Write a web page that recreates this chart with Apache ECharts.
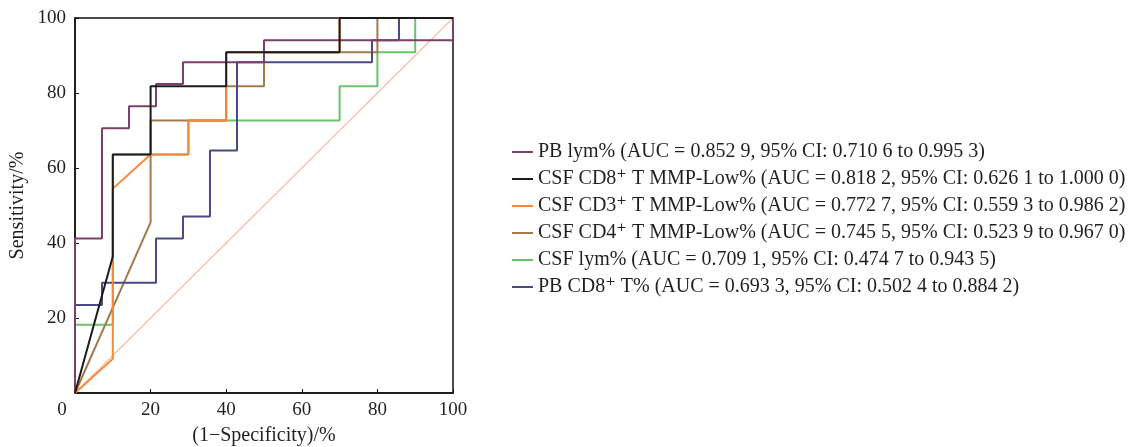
<!DOCTYPE html>
<html>
<head>
<meta charset="utf-8">
<script src="https://cdn.jsdelivr.net/npm/echarts@6/dist/echarts.min.js"></script>
<style>
html,body{margin:0;padding:0;background:#fff;}
#chart{width:1137px;height:447px;}
</style>
</head>
<body>
<div id="chart"></div>
<script>
// Series names (legend order)
const seriesNames = [
  'PB lym% (AUC = 0.852 9, 95% CI: 0.710 6 to 0.995 3)',
  'CSF CD8\u207A T MMP-Low% (AUC = 0.818 2, 95% CI: 0.626 1 to 1.000 0)',
  'CSF CD3\u207A T MMP-Low% (AUC = 0.772 7, 95% CI: 0.559 3 to 0.986 2)',
  'CSF CD4\u207A T MMP-Low% (AUC = 0.745 5, 95% CI: 0.523 9 to 0.967 0)',
  'CSF lym% (AUC = 0.709 1, 95% CI: 0.474 7 to 0.943 5)',
  'PB CD8\u207A T% (AUC = 0.693 3, 95% CI: 0.502 4 to 0.884 2)'
];
const seriesColors = ['#7d3f6c', '#1c1a1a', '#f5893a', '#a47a4c', '#6cc46a', '#4b4a85'];

// ROC points [1-specificity %, sensitivity %]
const pbLym = [[0,0],[0,41.2],[7.14,41.2],[7.14,70.6],[14.29,70.6],[14.29,76.5],[21.43,76.5],[21.43,82.4],[28.57,82.4],[28.57,88.2],[50,88.2],[50,94.1],[100,94.1],[100,100]];
const csfCD8 = [[0,0],[10,36.4],[10,63.6],[20,63.6],[20,81.8],[40,81.8],[40,90.9],[70,90.9],[70,100],[100,100]];
const csfCD3 = [[0,0],[10,9.1],[10,54.5],[20,63.6],[30,63.6],[30,72.7],[40,72.7],[40,81.8],[40,90.9],[70,90.9],[70,100],[100,100]];
const csfCD4 = [[0,0],[20,45.5],[20,72.7],[40,72.7],[40,81.8],[50,81.8],[50,90.9],[80,90.9],[80,100],[100,100]];
const csfLym = [[0,0],[0,18.2],[10,18.2],[10,63.6],[30,63.6],[30,72.7],[70,72.7],[70,81.8],[80,81.8],[80,90.9],[90,90.9],[90,100],[100,100]];
const pbCD8 = [[0,0],[0,23.5],[7.14,23.5],[7.14,29.4],[21.43,29.4],[21.43,41.2],[28.57,41.2],[28.57,47.1],[35.71,47.1],[35.71,64.7],[42.86,64.7],[42.86,88.2],[78.57,88.2],[78.57,94.1],[85.71,94.1],[85.71,100],[100,100]];
const reference = [[0,0],[100,100]];
const seriesData = [pbLym, csfCD8, csfCD3, csfCD4, csfLym, pbCD8];
const seriesZ = [6, 8, 5, 4, 3, 4];

const xTicks = [0, 20, 40, 60, 80, 100];
const yTicks = [0, 20, 40, 60, 80, 100];
const xTitle = '(1\u2212Specificity)/%';
const yTitle = 'Sensitivity/%';

const serif = '"Liberation Serif", "DejaVu Serif", serif';
const chart = echarts.init(document.getElementById('chart'));

const series = [{
  type: 'line', name: 'ref', data: reference, showSymbol: false, silent: true,
  lineStyle: { color: '#f8bea6', width: 1.2 }, z: 1
}];
seriesNames.forEach((n, i) => {
  series.push({
    type: 'line', name: n, data: seriesData[i], showSymbol: false,
    lineStyle: { color: seriesColors[i], width: 2 }, itemStyle: { color: seriesColors[i] },
    z: seriesZ[i]
  });
});

chart.setOption({
  animation: false,
  grid: { left: 75, right: 684, top: 18, bottom: 54, show: true, borderColor: '#111', borderWidth: 1.5,
    outerBoundsMode: 'none', containLabel: false },
  xAxis: {
    type: 'value', min: 0, max: 100, interval: 20,
    name: xTitle, nameLocation: 'middle', nameGap: 33,
    nameTextStyle: { fontFamily: serif, fontSize: 20, color: '#231f20' },
    axisLine: { lineStyle: { color: '#111', width: 1.5 } },
    axisTick: { inside: true, length: 4, lineStyle: { color: '#111' } },
    axisLabel: { fontFamily: serif, fontSize: 19, color: '#231f20', margin: 8,
      formatter: v => v === 0 ? '{o|0}' : String(v),
      rich: { o: { fontFamily: serif, fontSize: 19, color: '#231f20', padding: [0, 26, 0, 0] } } },
    splitLine: { show: false }
  },
  yAxis: {
    type: 'value', min: 0, max: 100, interval: 20,
    name: yTitle, nameLocation: 'middle', nameGap: 47, nameRotate: 90,
    nameTextStyle: { fontFamily: serif, fontSize: 20, color: '#231f20' },
    axisLine: { lineStyle: { color: '#111', width: 1.5 } },
    axisTick: { inside: true, length: 4, lineStyle: { color: '#111' } },
    axisLabel: { fontFamily: serif, fontSize: 19, color: '#231f20', margin: 9,
      formatter: v => v === 0 ? '' : String(v) },
    splitLine: { show: false }
  },
  legend: {
    data: seriesNames, orient: 'vertical', left: 507, top: 137,
    icon: 'rect', itemWidth: 21, itemHeight: 2, itemGap: 7,
    textStyle: { fontFamily: serif, fontSize: 20, color: '#231f20' }
  },
  series: series
});
</script>
</body>
</html>
